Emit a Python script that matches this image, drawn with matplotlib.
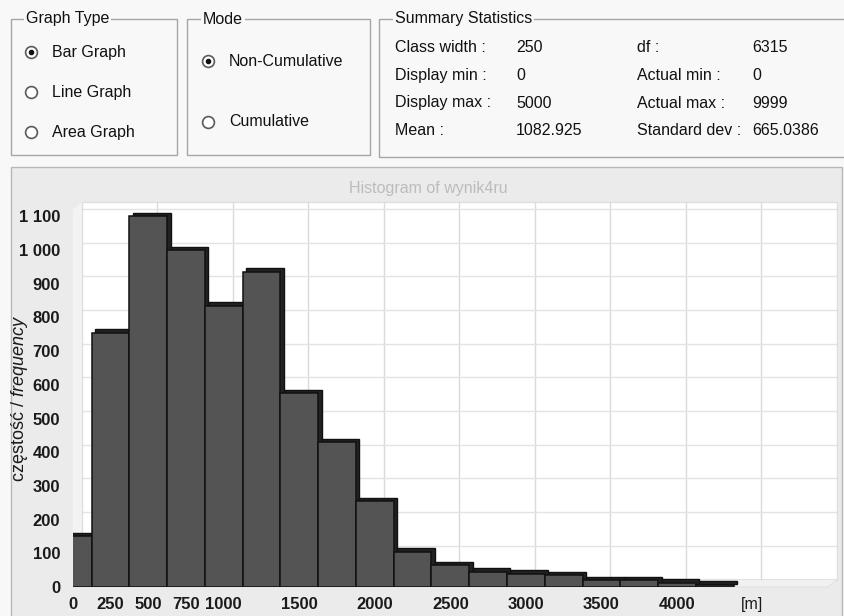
import matplotlib.pyplot as plt
from matplotlib.patches import Rectangle, Polygon
from matplotlib.lines import Line2D
from matplotlib.transforms import ScaledTranslation

# histogram of wynik4ru, class width 250
class_width = 250
bin_centers = [0, 250, 500, 750, 1000, 1250, 1500, 1750, 2000, 2250,
               2500, 2750, 3000, 3250, 3500, 3750, 4000, 4250]
counts = [150, 755, 1100, 1000, 835, 935, 575, 430, 255, 105,
          65, 45, 40, 35, 20, 20, 12, 7]

x_ticks = [0, 250, 500, 750, 1000, 1500, 2000, 2500, 3000, 3500, 4000, 4500]
x_tick_labels = ['0', '250', '500', '750', '1000', '1500', '2000', '2500',
                 '3000', '3500', '4000', '[m]']
y_ticks = list(range(0, 1200, 100))
y_tick_labels = [f"{v:,}".replace(',', ' ') for v in y_ticks]
x_grid = [500, 1000, 1500, 2000, 2500, 3000, 3500, 4000, 4500]
y_grid = y_ticks[1:]

graph_types = ['Bar Graph', 'Line Graph', 'Area Graph']
modes = ['Non-Cumulative', 'Cumulative']
stats_left = [('Class width :', '250'), ('Display min :', '0'),
              ('Display max :', '5000'), ('Mean :', '1082.925')]
stats_right = [('df :', '6315'), ('Actual min :', '0'),
               ('Actual max :', '9999'), ('Standard dev :', '665.0386')]

plt.rcParams['font.family'] = ['Liberation Sans', 'DejaVu Sans']
plt.rcParams['mathtext.fontset'] = 'custom'
plt.rcParams['mathtext.rm'] = 'Liberation Sans'
plt.rcParams['mathtext.it'] = 'Liberation Sans:italic'

W, H = 845, 616
bg = '#f8f8f8'
fig = plt.figure(figsize=(W / 100, H / 100), dpi=100, facecolor=bg)


def fx(x):
    return x / W


def fy(y):
    return 1 - y / H


def group_box(x0, y0, x1, y1, title, tx):
    fig.add_artist(Rectangle((fx(x0), fy(y1)), fx(x1) - fx(x0), fy(y0) - fy(y1),
                             transform=fig.transFigure, fill=False,
                             edgecolor='#a6a6a6', lw=1))
    fig.text(fx(tx), fy(y0), title, ha='left', va='center', fontsize=11.5,
             color='#111111',
             bbox=dict(facecolor=bg, edgecolor='none', pad=1.5))


def radio(x, y, label, checked):
    fig.add_artist(Line2D([fx(x)], [fy(y)], marker='o', markersize=8.5,
                          markerfacecolor='white', markeredgecolor='#5a5a5a',
                          markeredgewidth=1.2, transform=fig.transFigure))
    if checked:
        fig.add_artist(Line2D([fx(x)], [fy(y)], marker='o', markersize=3,
                              color='#111111', transform=fig.transFigure))
    fig.text(fx(x + 21), fy(y), label, ha='left', va='center',
             fontsize=11.5, color='#111111')


# top controls
group_box(11, 19, 177, 155, 'Graph Type', 26)
for i, name in enumerate(graph_types):
    radio(31, 52 + 40 * i, name, i == 0)

group_box(187, 19, 370, 155, 'Mode', 203)
for i, name in enumerate(modes):
    radio(208, 61 + 61 * i, name, i == 0)

group_box(379, 19, 852, 157, 'Summary Statistics', 395)
for i, (k, v) in enumerate(stats_left):
    fig.text(fx(395), fy(48 + 27.5 * i), k, ha='left', va='center', fontsize=11.5, color='#111111')
    fig.text(fx(516), fy(48 + 27.5 * i), v, ha='left', va='center', fontsize=11.5, color='#111111')
for i, (k, v) in enumerate(stats_right):
    fig.text(fx(637), fy(48 + 27.5 * i), k, ha='left', va='center', fontsize=11.5, color='#111111')
    fig.text(fx(752), fy(48 + 27.5 * i), v, ha='left', va='center', fontsize=11.5, color='#111111')

# chart panel
fig.add_artist(Rectangle((fx(11), fy(640)), fx(842) - fx(11), fy(167) - fy(640),
                         transform=fig.transFigure, facecolor='#ebebeb',
                         edgecolor='#b8b8b8', lw=1, zorder=0))
fig.text(fx(428), fy(188), 'Histogram of wynik4ru', ha='center', va='center',
         fontsize=11.5, color='#bcbcbc')

# front plane of the plot
ax_l, ax_r, ax_b, ax_t = 72.7, 828, 587, 209.6
ax = fig.add_axes([fx(ax_l), fy(ax_b), fx(ax_r) - fx(ax_l), fy(ax_t) - fy(ax_b)])
ax.patch.set_visible(False)
for s in ax.spines.values():
    s.set_visible(False)

wall_off = ScaledTranslation(0.09, 0.075, fig.dpi_scale_trans)
bar_off = ScaledTranslation(0.035, 0.035, fig.dpi_scale_trans)

# back wall
ax.add_patch(Rectangle((0, 0), 1, 1, transform=ax.transAxes + wall_off,
                       facecolor='white', edgecolor='#dedede', lw=1,
                       zorder=0, clip_on=False))
fig.canvas.draw()
p0, p1, p2 = ax.transAxes.transform([(0, 0), (0, 1), (1, 0)])
d = (9, 7.5)
ax.add_patch(Polygon([p0, p1, (p1[0] + d[0], p1[1] + d[1]), (p0[0] + d[0], p0[1] + d[1])],
                     closed=True, transform=None, facecolor='#f3f3f3',
                     edgecolor='none', zorder=0.5, clip_on=False))
ax.add_patch(Polygon([p0, p2, (p2[0] + d[0], p2[1] + d[1]), (p0[0] + d[0], p0[1] + d[1])],
                     closed=True, transform=None, facecolor='#f1f1f1',
                     edgecolor='#e2e2e2', lw=0.8, zorder=0.5, clip_on=False))

# grid on back wall
ax.vlines(x_grid, 0, 1, transform=ax.get_xaxis_transform() + wall_off,
          colors='#dadada', lw=1, zorder=1, clip_on=False)
ax.hlines(y_grid, 0, 1, transform=ax.get_yaxis_transform() + wall_off,
          colors='#e3e3e3', lw=1, zorder=1, clip_on=False)

# bars: dark extruded shadow, then front faces
ax.bar(bin_centers, counts, width=class_width, color='#222222',
       edgecolor='#111111', lw=1, zorder=2, transform=ax.transData + bar_off)
ax.bar(bin_centers, counts, width=class_width, color='#545454',
       edgecolor='#111111', lw=1.1, zorder=3)

ax.set_xlim(0, 5000)
ax.set_ylim(0, 1120)
ax.set_xticks(x_ticks)
ax.set_xticklabels(x_tick_labels)
ax.set_yticks(y_ticks)
ax.set_yticklabels(y_tick_labels)
ax.tick_params(axis='both', length=0, labelsize=12, labelcolor='#1a1a1a')
ax.tick_params(axis='y', pad=9)
ax.tick_params(axis='x', pad=7.5)
for lab in ax.get_xticklabels()[:-1] + ax.get_yticklabels():
    lab.set_fontweight('bold')
ax.get_xticklabels()[-1].set_fontsize(11.5)

ax.set_ylabel('częstość / $\\mathit{frequency}$', fontsize=13, color='#1a1a1a')
ax.yaxis.set_label_coords(-0.057, 0.5)

fig.savefig('out.png', dpi=100, facecolor=bg)
